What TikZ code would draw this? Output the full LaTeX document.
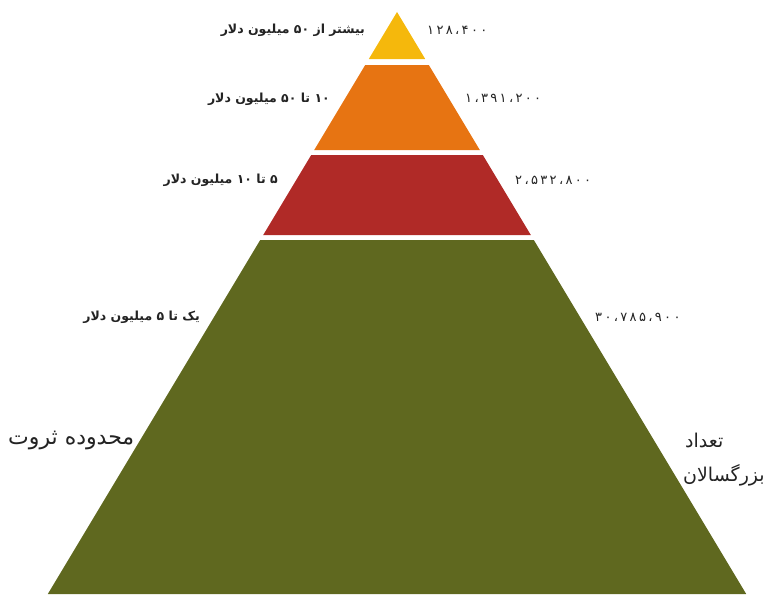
\documentclass[tikz,border=0pt]{standalone}
\usepackage{fontspec}
\newfontfamily\fa[Script=Arabic]{DejaVu Sans}
\newfontfamily\fanum[Script=Arabic,LetterSpace=18]{DejaVu Sans}
\TeXXeTstate=1
\definecolor{pyrYellow}{HTML}{F5B80C}
\definecolor{pyrOrange}{HTML}{E77412}
\definecolor{pyrRed}{HTML}{B02A27}
\definecolor{pyrGreen}{HTML}{5F681F}
\definecolor{txt}{HTML}{232323}
\tikzset{
  band label/.style={anchor=east, inner sep=0pt, text=txt, font=\fa\bfseries\fontsize{12.5}{14}\selectfont},
  count label/.style={anchor=west, inner sep=0pt, text=txt, font=\fanum\fontsize{13}{15}\selectfont},
  axis label/.style={anchor=west, inner sep=0pt, text=txt, font=\fa\fontsize{19}{22}\selectfont},
}
\begin{document}
\begin{tikzpicture}[x=1pt, y=-1pt]
\useasboundingbox (0,0) rectangle (770,594);
% pyramid bands: top / bottom / colour
\foreach \ta/\tb/\col in {12/59/pyrYellow, 65/150/pyrOrange, 155/235/pyrRed, 240/594/pyrGreen}
  \fill[\col] ({397-0.6*(\ta-12)},\ta) -- ({397+0.6*(\ta-12)},\ta)
    -- ({397+0.6*(\tb-12)},\tb) -- ({397-0.6*(\tb-12)},\tb) -- cycle;
\node[band label] (range1) at (365,30) {\beginR بیشتر از ۵۰ میلیون دلار\endR};
\node[count label] (count1) at (427,30) {۱۲۸،۴۰۰};
\node[band label] (range2) at (330,99) {\beginR ۱۰ تا ۵۰ میلیون دلار\endR};
\node[count label] (count2) at (465,98) {۱،۳۹۱،۲۰۰};
\node[band label] (range3) at (278,180) {\beginR ۵ تا ۱۰ میلیون دلار\endR};
\node[count label] (count3) at (515,180) {۲،۵۳۲،۸۰۰};
\node[band label] (range4) at (200,317) {\beginR یک تا ۵ میلیون دلار\endR};
\node[count label] (count4) at (595,317) {۳۰،۷۸۵،۹۰۰};
\node[axis label, font=\fa\fontsize{22}{25}\selectfont] (wealth) at (8,440) {\beginR محدوده ثروت\endR};
\node[axis label] (adults1) at (685,440) {\beginR تعداد\endR};
\node[axis label] (adults2) at (683,475) {\beginR بزرگسالان\endR};
\end{tikzpicture}
\end{document}
